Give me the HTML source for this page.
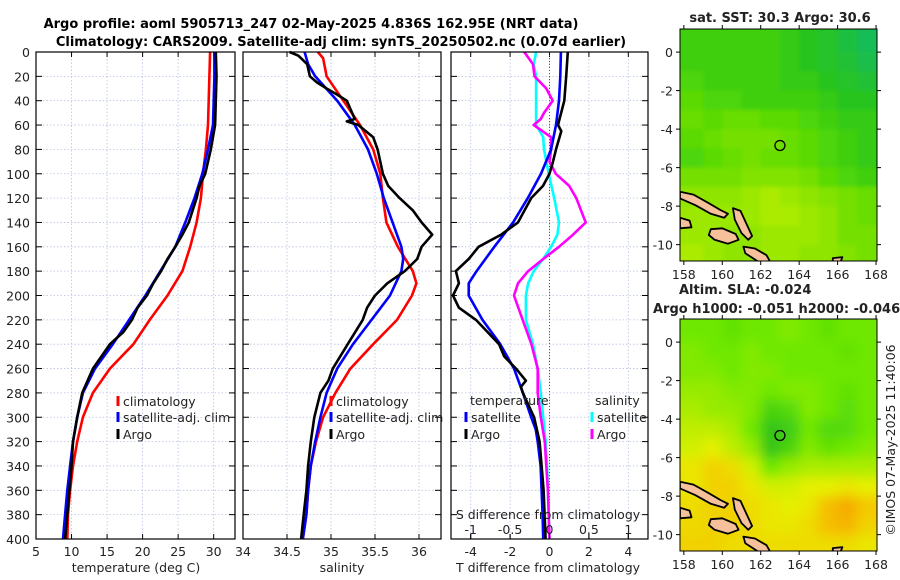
<!DOCTYPE html>
<html><head><meta charset="utf-8"><style>
html,body{margin:0;padding:0;background:#fff}
svg{display:block;font-family:"DejaVu Sans","Liberation Sans",sans-serif}
</style></head><body>
<svg id="fig" width="900" height="580" viewBox="0 0 900 580" xmlns="http://www.w3.org/2000/svg">
<defs>
<filter id="blurA" x="-10%" y="-10%" width="120%" height="120%"><feGaussianBlur stdDeviation="2"/></filter>
<filter id="blurB" x="-10%" y="-10%" width="120%" height="120%"><feGaussianBlur stdDeviation="6"/></filter>
<clipPath id="clipTop"><rect x="680" y="29" width="197" height="232"/></clipPath>
<clipPath id="clipBot"><rect x="680" y="319" width="197" height="232"/></clipPath>
</defs>
<text x="311" y="28" text-anchor="middle" font-size="13" font-weight="bold">Argo profile: aoml 5905713_247 02-May-2025 4.836S 162.95E (NRT data)</text>
<text x="341" y="46" text-anchor="middle" font-size="13" font-weight="bold">Climatology: CARS2009. Satellite-adj clim: synTS_20250502.nc (0.07d earlier)</text>
<g id="plots"></g>
</svg>
<script>
// ---------- data ----------
const depthT = [0,20,40,60,80,100,120,140,160,180,200,220,240,260,280,300,320,340,360,380,400];
const tempClim = [29.5,29.4,29.3,29.2,28.9,28.5,28.2,27.6,26.7,25.6,23.5,21.0,18.7,15.4,13.0,11.6,10.8,10.2,9.8,9.5,9.4];
const tempSat  = [30.1,30.1,30.0,29.9,29.2,28.4,27.3,26.0,24.6,22.5,20.4,18.1,15.8,13.3,11.6,10.8,10.2,9.8,9.4,9.1,8.8];
const depthArgoT = [0,20,40,60,80,100,110,120,140,150,160,170,180,190,200,210,220,230,240,260,280,300,320,340,360,380,400];
const tempArgo = [30.3,30.4,30.3,30.2,29.6,28.8,28.0,27.6,26.5,25.6,24.6,23.5,22.6,21.5,20.6,19.3,18.5,17.3,15.4,13.0,11.5,10.8,10.2,10.0,9.7,9.4,9.1];

const depthS = [0,5,20,40,60,80,100,120,140,160,180,190,200,220,240,260,280,300,320,340,360,380,400];
const salClim = [34.85,34.91,34.95,35.14,35.33,35.48,35.56,35.59,35.63,35.76,35.93,35.97,35.92,35.75,35.48,35.22,35.05,34.91,34.83,34.77,34.74,34.72,34.68];
const depthSatS = [0,10,20,40,60,80,100,120,140,160,170,180,200,220,240,260,280,300,320,340,360,380,400];
const salSat = [34.70,34.74,34.82,35.07,35.27,35.42,35.52,35.60,35.70,35.80,35.82,35.80,35.67,35.46,35.25,35.07,34.95,34.88,34.82,34.77,34.74,34.72,34.68];
const depthArgoS = [0,3,10,20,25,30,35,40,50,55,57,60,70,80,100,110,120,130,140,150,160,170,180,190,200,210,220,240,260,270,280,300,320,340,360,380,400];
const salArgo = [34.53,34.63,34.73,34.76,34.84,34.95,35.07,35.18,35.24,35.27,35.18,35.31,35.48,35.53,35.59,35.65,35.78,35.93,36.03,36.15,36.03,35.98,35.84,35.64,35.50,35.41,35.36,35.19,35.02,34.97,34.88,34.81,34.77,34.74,34.72,34.69,34.66];

const depthDT = [0,20,40,60,80,100,120,140,160,180,190,200,220,240,260,280,300,310,320,340,360,380,400];
const dTsat = [0.58,0.55,0.48,0.33,0.08,-0.43,-1.1,-1.85,-2.8,-3.7,-4.1,-4.1,-3.4,-2.5,-1.8,-1.35,-0.93,-0.7,-0.6,-0.45,-0.4,-0.35,-0.32];
const depthDTargo = [0,20,40,60,65,80,90,100,110,120,140,150,160,170,180,190,200,210,220,240,250,260,270,275,280,300,320,340,360,380,400];
const dTargo = [0.93,0.85,0.75,0.43,0.6,0.33,0.18,0,-0.33,-0.93,-1.6,-2.45,-3.6,-4.1,-4.75,-4.6,-4.9,-4.6,-3.73,-2.56,-2.3,-1.7,-1.2,-1.45,-1.35,-0.78,-0.5,-0.4,-0.3,-0.25,-0.2];
const depthDS = [0,10,20,40,60,70,80,100,120,140,150,160,170,180,190,200,220,240,260,280,300,320,340,360,380,400];
const dSsat = [-0.17,-0.2,-0.17,-0.17,-0.17,-0.08,-0.07,-0.01,0.06,0.12,0.1,0.02,-0.08,-0.2,-0.27,-0.3,-0.3,-0.21,-0.15,-0.11,-0.08,-0.05,-0.03,-0.02,-0.01,0];
const depthDSargo = [0,10,20,30,40,50,55,60,70,80,90,100,110,120,130,140,150,160,170,180,190,200,220,240,260,280,300,320,340,360,380,400];
const dSargo = [-0.32,-0.21,-0.19,-0.04,0.04,-0.07,-0.11,-0.2,0.02,0.02,0,0.08,0.25,0.34,0.4,0.46,0.3,0.12,-0.08,-0.27,-0.4,-0.45,-0.34,-0.23,-0.15,-0.15,-0.11,-0.06,-0.04,-0.02,-0.01,0];

const depthTicks = [0,20,40,60,80,100,120,140,160,180,200,220,240,260,280,300,320,340,360,380,400];
const tempTicks = [5,10,15,20,25,30];
const salTicks = [34,34.5,35,35.5,36];
const dTTicks = [-4,-2,0,2,4];
const dSTicks = [-1,-0.5,0,0.5,1];
const lonTicks = [158,160,162,164,166,168];
const latTicks = [0,-2,-4,-6,-8,-10];

const sstGrid = [
[.5,.5,.5,.5,.5,.45,.4,.35,.25,.15],
[.5,.5,.5,.5,.5,.45,.4,.35,.3,.2],
[.55,.5,.5,.5,.5,.45,.45,.4,.35,.3],
[.6,.55,.55,.5,.5,.5,.5,.45,.4,.4],
[.65,.6,.65,.65,.6,.6,.55,.5,.45,.45],
[.6,.65,.7,.7,.7,.65,.6,.55,.5,.45],
[.55,.6,.65,.7,.65,.65,.6,.55,.5,.45],
[.7,.7,.7,.75,.75,.75,.7,.6,.55,.5],
[.8,.8,.8,.85,.9,.85,.8,.75,.7,.65],
[.85,.85,.85,.85,.9,.9,.85,.8,.7,.65],
[.85,.85,.8,.8,.85,.85,.85,.8,.7,.7],
[.9,.85,.8,.8,.85,.85,.8,.8,.75,.7]];
const slaGrid = [
[.3,.3,.25,.3,.3,.35,.3,.25,.3,.3],
[.35,.3,.3,.35,.3,.3,.3,.3,.25,.3],
[.35,.35,.3,.35,.35,.3,.3,.3,.3,.3],
[.4,.4,.35,.35,.3,.35,.35,.3,.25,.3],
[.45,.4,.4,.35,.15,.2,.35,.3,.22,.3],
[.5,.5,.45,.3,.05,.1,.3,.18,.2,.3],
[.55,.6,.5,.4,.05,.15,.35,.25,.3,.35],
[.65,.75,.7,.55,.3,.4,.45,.45,.45,.45],
[.65,.75,.75,.65,.55,.55,.6,.6,.65,.6],
[.7,.75,.75,.7,.65,.6,.65,.85,.95,.8],
[.72,.75,.75,.7,.65,.65,.7,.85,.9,.75],
[.75,.75,.7,.7,.7,.7,.7,.7,.7,.65]];
const argoLon = [163.0];
const argoLat = [-4.85];

// ---------- helpers ----------
const NS = 'http://www.w3.org/2000/svg';
const root = document.getElementById('plots');
function mk(tag, attrs, parent){const e=document.createElementNS(NS,tag);for(const k in attrs)e.setAttribute(k,attrs[k]);(parent||root).appendChild(e);return e;}
function txt(x,y,s,size,anchor,parent){const t=mk('text',{x:x,y:y,'font-size':size||12,'text-anchor':anchor||'middle',fill:'#222'},parent);t.textContent=s;return t;}

const Y0=52, Y1=539;
function yD(d){return Y0+(d/400)*(Y1-Y0);}
const panels={
 temp:{x0:36,x1:235,min:5,max:33},
 sal:{x0:243,x1:441,min:34,max:36.25},
 diff:{x0:451,x1:648,min:-5,max:5}
};
function xP(p,v){return p.x0+(v-p.min)/(p.max-p.min)*(p.x1-p.x0);}
function xS(v){const p=panels.diff;return xP(p,v*4);}

function frame(p,name,ticks,gridTicks){
 const g=mk('g',{});
 
 
 gridTicks.forEach(v=>{const x=xP(p,v);mk('line',{x1:x,x2:x,y1:Y0,y2:Y1,stroke:'#b8c2e0','stroke-width':0.8,'stroke-dasharray':'1.5,2'},g);});
 depthTicks.forEach(d=>{const y=yD(d);mk('line',{x1:p.x0,x2:p.x1,y1:y,y2:y,stroke:'#b8c2e0','stroke-width':0.8,'stroke-dasharray':'1.5,2'},g);
   mk('line',{x1:p.x0,x2:p.x0+6,y1:y,y2:y,stroke:'#000','stroke-width':1},g);
   mk('line',{x1:p.x1-6,x2:p.x1,y1:y,y2:y,stroke:'#000','stroke-width':1},g);});
 ticks.forEach(v=>{const x=xP(p,v);mk('line',{x1:x,x2:x,y1:Y1,y2:Y1-5,stroke:'#000','stroke-width':1},g);mk('line',{x1:x,x2:x,y1:Y0,y2:Y0+5,stroke:'#000','stroke-width':1},g);
   const t=txt(x,556,String(v),12.5,'middle',g);
   
   });
 return g;
}
function line(p,xs,ds,color,name,fx){
 const pts=xs.map((v,i)=>(fx?fx(v):xP(p,v)).toFixed(1)+','+yD(ds[i]).toFixed(1)).join(' ');
 const e=mk('polyline',{points:pts,fill:'none',stroke:color,'stroke-width':2.6,'stroke-linejoin':'round'});
 
 
 return e;
}
function border(p){mk('rect',{x:p.x0,y:Y0,width:p.x1-p.x0,height:Y1-Y0,fill:'none',stroke:'#000','stroke-width':1.2});}
function legendEntry(x,y,color,label,name){
 const g=mk('g',{});
 
 
 mk('line',{x1:x,x2:x,y1:y-10,y2:y,stroke:color,'stroke-width':3},g);
 txt(x+5,y,label,12.5,'start',g);
}

depthTicks.forEach(d=>{const t=txt(30,yD(d)+5,String(d),12.5,'end');
 
 });

frame(panels.temp,'temperature',tempTicks,tempTicks);
line(panels.temp,tempClim,depthT,'#ff0000','temp-climatology-line');
line(panels.temp,tempSat,depthT,'#0000ff','temp-satellite-line');
line(panels.temp,tempArgo,depthArgoT,'#000000','temp-argo-line');
border(panels.temp);
legendEntry(118,406,'#ff0000','climatology','legend-temp-climatology');
legendEntry(118,422,'#0000ff','satellite-adj. clim','legend-temp-satellite');
legendEntry(118,439,'#000','Argo','legend-temp-argo');
txt(136,572,'temperature (deg C)',12.5);

frame(panels.sal,'salinity',salTicks,salTicks);
line(panels.sal,salClim,depthS,'#ff0000','sal-climatology-line');
line(panels.sal,salSat,depthSatS,'#0000ff','sal-satellite-line');
line(panels.sal,salArgo,depthArgoS,'#000000','sal-argo-line');
border(panels.sal);
legendEntry(331,406,'#ff0000','climatology','legend-sal-climatology');
legendEntry(331,422,'#0000ff','satellite-adj. clim','legend-sal-satellite');
legendEntry(331,439,'#000','Argo','legend-sal-argo');
txt(342,572,'salinity',12.5);

frame(panels.diff,'difference',dTTicks,dTTicks);
mk('line',{x1:xP(panels.diff,0),x2:xP(panels.diff,0),y1:Y0,y2:Y1,stroke:'#555','stroke-width':1,'stroke-dasharray':'1,2'});
line(panels.diff,dSsat,depthDS,'#00ffff','sdiff-satellite-line',xS);
line(panels.diff,dSargo,depthDSargo,'#ff00ff','sdiff-argo-line',xS);
line(panels.diff,dTsat,depthDT,'#0000ff','tdiff-satellite-line');
line(panels.diff,dTargo,depthDTargo,'#000000','tdiff-argo-line');
border(panels.diff);
txt(548,519,'S difference from climatology',12.5);
dSTicks.forEach(v=>{const x=xS(v);mk('line',{x1:x,x2:x,y1:Y1,y2:Y1-5,stroke:'#000'});
 const t=txt(x,534,String(v),12.5);
 
 });
txt(470,405,'temperature',12.5,'start');
txt(595,405,'salinity',12.5,'start');
legendEntry(466,422,'#0000ff','satellite','legend-tdiff-satellite');
legendEntry(466,439,'#000','Argo','legend-tdiff-argo');
legendEntry(592,422,'#00ffff','satellite','legend-sdiff-satellite');
legendEntry(592,439,'#ff00ff','Argo','legend-sdiff-argo');
txt(548,572,'T difference from climatology',12.5);

// ---------- maps ----------
const LON0=157.8, LON1=168.05, LAT0=1.2, LAT1=-10.85;
function mapFns(top){const mx0=680,mx1=877,my0=top,my1=top+232;
 return {x:lon=>mx0+(lon-LON0)/(LON1-LON0)*(mx1-mx0), y:lat=>my0+(LAT0-lat)/(LAT0-LAT1)*(my1-my0), x0:mx0,x1:mx1,y0:my0,y1:my1};}
function lerpC(stops,v){for(let i=1;i<stops.length;i++){if(v<=stops[i][0]){const a=stops[i-1],b=stops[i];const t=(v-a[0])/(b[0]-a[0]);
  const c=[0,1,2].map(k=>Math.round(a[1][k]+(b[1][k]-a[1][k])*t));return 'rgb('+c.join(',')+')';}}const l=stops[stops.length-1][1];return 'rgb('+l.join(',')+')';}
const sstStops=[[0,[16,184,120]],[0.4,[40,196,30]],[0.6,[90,218,0]],[1,[196,240,0]]];
const slaStops=[[0,[40,190,30]],[0.3,[110,232,0]],[0.6,[230,240,0]],[0.8,[245,200,0]],[1,[245,160,0]]];
const islands=[
 [[157.8,-7.25],[158.5,-7.4],[159.3,-7.85],[159.9,-8.2],[160.3,-8.4],[160.1,-8.6],[159.4,-8.4],[158.6,-7.95],[157.8,-7.6]],
 [[160.55,-8.1],[160.95,-8.25],[161.25,-8.9],[161.55,-9.55],[161.35,-9.75],[161.0,-9.4],[160.65,-8.7]],
 [[159.4,-9.2],[160.0,-9.15],[160.7,-9.45],[160.85,-9.75],[160.3,-9.95],[159.6,-9.75],[159.3,-9.5]],
 [[161.1,-10.1],[161.7,-10.2],[162.3,-10.55],[162.5,-10.9],[161.9,-10.9],[161.2,-10.45]],
 [[157.8,-8.6],[158.3,-8.75],[158.4,-9.1],[157.8,-9.15]],
 [[165.75,-10.7],[166.25,-10.65],[166.15,-10.9],[165.75,-10.9]]
];
function drawMap(top,grid,stops,clipId,blurId,name){
 const f=mapFns(top);
 const g=mk('g',{'clip-path':'url(#'+clipId+')'});
 
 
 const gb=mk('g',{filter:'url(#'+blurId+')'},g);
 mk('rect',{x:f.x0-10,y:f.y0-10,width:220,height:260,fill:lerpC(stops,0.6)},gb);
 const nr=grid.length,nc=grid[0].length;
 for(let r=0;r<nr;r++)for(let c=0;c<nc;c++){
  const lonA=158+c-(c===0?1:0), lonB=159+c+(c===nc-1?1:0);
  const latA=1-r+(r===0?1:0), latB=-r-(r===nr-1?1:0);
  const cell=mk('rect',{x:f.x(lonA),y:f.y(latA),width:f.x(lonB)-f.x(lonA)+0.5,height:f.y(latB)-f.y(latA)+0.5,fill:lerpC(stops,grid[r][c])},gb);
  
  
 }
 islands.forEach(poly=>{const isl=mk('polygon',{points:poly.map(p=>f.x(p[0]).toFixed(1)+','+f.y(p[1]).toFixed(1)).join(' '),fill:'#f5c09a',stroke:'#000','stroke-width':1.8,'stroke-linejoin':'round'},g);
  
  });
 argoLon.forEach((lo,i)=>{const c=mk('circle',{cx:f.x(lo),cy:f.y(argoLat[i]),r:5,fill:'none',stroke:'#000','stroke-width':1.3},g);
  
  });
 mk('rect',{x:f.x0,y:f.y0,width:f.x1-f.x0,height:f.y1-f.y0,fill:'none',stroke:'#000','stroke-width':1});
 lonTicks.forEach(v=>{const x=f.x(v);mk('line',{x1:x,x2:x,y1:f.y1,y2:f.y1+4,stroke:'#000'});mk('line',{x1:x,x2:x,y1:f.y0,y2:f.y0-4,stroke:'#000'});
  const t=txt(x,f.y1+18,String(v),12.5);
  
  });
 latTicks.forEach(v=>{const y=f.y(v);mk('line',{x1:f.x0-4,x2:f.x0,y1:y,y2:y,stroke:'#000'});mk('line',{x1:f.x1,x2:f.x1+4,y1:y,y2:y,stroke:'#000'});
  const t=txt(673,y+5,String(v),12.5,'end');
  
  });
}
drawMap(29,sstGrid,sstStops,'clipTop','blurA','sst-map');
drawMap(319,slaGrid,slaStops,'clipBot','blurB','sla-map');
txt(780,22,'sat. SST: 30.3 Argo: 30.6',13).setAttribute('font-weight','bold');
txt(679,294,'Altim. SLA: -0.024',13,'start').setAttribute('font-weight','bold');
txt(653,313,'Argo h1000: -0.051 h2000: -0.046',13,'start').setAttribute('font-weight','bold');
const cp=txt(0,0,'©IMOS 07-May-2025 11:40:06',12.5);
cp.setAttribute('transform','translate(895,440) rotate(-90)');


</script>
</body></html>
